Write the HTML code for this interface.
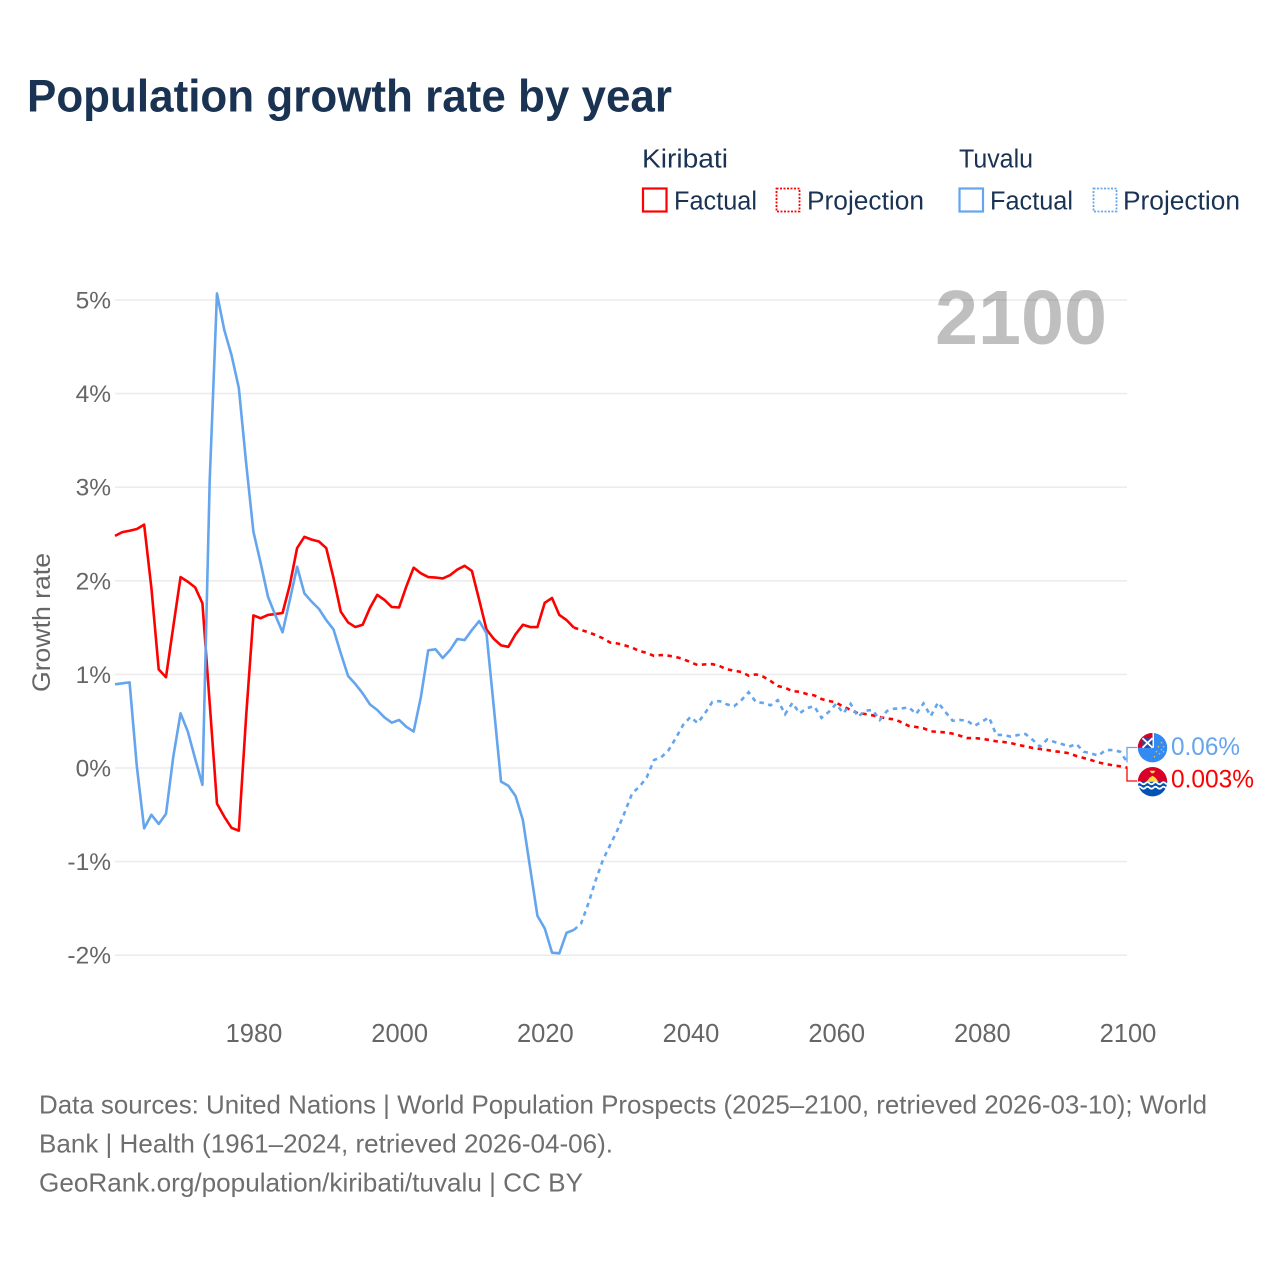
<!DOCTYPE html>
<html lang="en">
<head>
<meta charset="utf-8">
<title>Population growth rate by year</title>
<style>
html,body{margin:0;padding:0;background:#fff;width:1280px;height:1280px;overflow:hidden}
svg{display:block}
text{font-family:"Liberation Sans",sans-serif}
</style>
</head>
<body>
<svg id="chart" xmlns="http://www.w3.org/2000/svg" width="1280" height="1280" viewBox="0 0 1280 1280">
  <rect width="1280" height="1280" fill="#fff"/>
  <text x="27" y="111.500" font-size="45" font-weight="700" fill="#1a3353" textLength="645" lengthAdjust="spacingAndGlyphs">Population growth rate by year</text>

  <g font-size="25.500" fill="#1a3353">
    <text x="642" y="167.500" textLength="86" lengthAdjust="spacingAndGlyphs">Kiribati</text>
    <text x="959" y="167.500" textLength="74" lengthAdjust="spacingAndGlyphs">Tuvalu</text>
    <rect x="643" y="188.500" width="23.500" height="23" fill="none" stroke="#ff0000" stroke-width="2.200"/>
    <text x="674" y="209.500" textLength="83" lengthAdjust="spacingAndGlyphs">Factual</text>
    <rect x="776.500" y="188.500" width="23" height="23" fill="none" stroke="#ff0000" stroke-width="1.800" stroke-dasharray="2 1.500"/>
    <text x="807" y="209.500" textLength="117" lengthAdjust="spacingAndGlyphs">Projection</text>
    <rect x="959.500" y="188.500" width="23.500" height="23" fill="none" stroke="#64a5ee" stroke-width="2.200"/>
    <text x="990" y="209.500" textLength="83" lengthAdjust="spacingAndGlyphs">Factual</text>
    <rect x="1093.500" y="188.500" width="23" height="23" fill="none" stroke="#64a5ee" stroke-width="1.800" stroke-dasharray="2 1.500"/>
    <text x="1123" y="209.500" textLength="117" lengthAdjust="spacingAndGlyphs">Projection</text>
  </g>

  <g id="grid"></g>
  <text x="935" y="344" font-size="77" font-weight="700" fill="#000" fill-opacity="0.25" textLength="172" lengthAdjust="spacingAndGlyphs">2100</text>
  <g id="yticks" font-size="24.500" fill="#666" text-anchor="end"></g>
  <g id="xticks" font-size="25.500" fill="#666" text-anchor="middle"></g>
  <text transform="translate(50,622.500) rotate(-90)" font-size="25" fill="#666" text-anchor="middle" textLength="139" lengthAdjust="spacingAndGlyphs">Growth rate</text>
  <g id="series"></g>

  <g transform="translate(1152.500,747.700)">
    <clipPath id="clip-tv"><circle r="14.700"/></clipPath>
    <g clip-path="url(#clip-tv)">
      <rect x="-15" y="-15" width="30" height="30" fill="#338af3"/>
      <rect x="-15" y="-15" width="15" height="15" fill="#d80027"/>
      <rect x="-10" y="-9.500" width="10" height="9.500" fill="#1d4ea8"/>
      <path d="M-10,-9.500 L0,0 M-10,0 L0,-9.500" stroke="#fff" stroke-width="1.800"/>
      <rect x="0" y="-15" width="1.500" height="15" fill="#fff"/>
    </g>
    <g fill="#e8c040">
      <circle cx="9" cy="-5" r="0.800"/><circle cx="11" cy="-1" r="0.800"/><circle cx="6" cy="-1" r="0.800"/>
      <circle cx="9" cy="2" r="0.800"/><circle cx="4" cy="4" r="0.800"/><circle cx="7" cy="6" r="0.800"/>
      <circle cx="2" cy="9" r="0.800"/><circle cx="11" cy="4" r="0.800"/>
    </g>
  </g>
  <g transform="translate(1152.500,781.700)">
    <clipPath id="clip-ki"><circle r="14.700"/></clipPath>
    <g clip-path="url(#clip-ki)">
      <rect x="-15" y="-15" width="30" height="16" fill="#d80027"/>
      <rect x="-15" y="0" width="30" height="15" fill="#0052b4"/>
      <path d="M-6,0 L-3,-4 L0,-6 L3,-4 L6,0 Z" fill="#ffda44"/>
      <path d="M-3,-11 L3,-11 L1,-8.500 L-1,-8.500 Z" fill="#ffda44"/>
      <path d="M-15,1.500 q2,-2 4,0 t4,0 t4,0 t4,0 t4,0 t4,0 t4,0 t4,0" fill="none" stroke="#fff" stroke-width="1.800"/>
      <path d="M-15,6 q2,-2 4,0 t4,0 t4,0 t4,0 t4,0 t4,0 t4,0 t4,0" fill="none" stroke="#fff" stroke-width="1.800"/>
    </g>
  </g>
  <g id="endlabels" font-size="25"></g>

  <g font-size="26" fill="#6e6e6e">
    <text x="39" y="1113.500" textLength="1168" lengthAdjust="spacingAndGlyphs">Data sources: United Nations | World Population Prospects (2025–2100, retrieved 2026-03-10); World</text>
    <text x="39" y="1152.500" textLength="574" lengthAdjust="spacingAndGlyphs">Bank | Health (1961–2024, retrieved 2026-04-06).</text>
    <text x="39" y="1191.500" textLength="544" lengthAdjust="spacingAndGlyphs">GeoRank.org/population/kiribati/tuvalu | CC BY</text>
  </g>
</svg>
<script>
const years = [
1961,1962,1963,1964,1965,1966,1967,1968,1969,1970,
1971,1972,1973,1974,1975,1976,1977,1978,1979,1980,
1981,1982,1983,1984,1985,1986,1987,1988,1989,1990,
1991,1992,1993,1994,1995,1996,1997,1998,1999,2000,
2001,2002,2003,2004,2005,2006,2007,2008,2009,2010,
2011,2012,2013,2014,2015,2016,2017,2018,2019,2020,
2021,2022,2023,2024,2025,2026,2027,2028,2029,2030,
2031,2032,2033,2034,2035,2036,2037,2038,2039,2040,
2041,2042,2043,2044,2045,2046,2047,2048,2049,2050,
2051,2052,2053,2054,2055,2056,2057,2058,2059,2060,
2061,2062,2063,2064,2065,2066,2067,2068,2069,2070,
2071,2072,2073,2074,2075,2076,2077,2078,2079,2080,
2081,2082,2083,2084,2085,2086,2087,2088,2089,2090,
2091,2092,2093,2094,2095,2096,2097,2098,2099,2100];
const lastFactualYear = 2024;
const kiribatiValues = [
2.48,2.52,2.535,2.553,2.60,1.92,1.054,0.97,1.51,2.04,
1.99,1.93,1.76,0.69,-0.38,-0.52,-0.64,-0.67,0.55,1.63,
1.60,1.635,1.645,1.656,1.955,2.35,2.47,2.44,2.42,2.35,
2.03,1.67,1.555,1.506,1.53,1.71,1.85,1.795,1.72,1.715,
1.94,2.14,2.08,2.04,2.035,2.025,2.06,2.12,2.16,2.105,
1.795,1.48,1.38,1.31,1.295,1.43,1.53,1.506,1.506,1.765,
1.816,1.635,1.58,1.50,1.475,1.45,1.42,1.385,1.34,1.33,
1.31,1.285,1.25,1.23,1.197,1.207,1.20,1.186,1.165,1.13,
1.10,1.107,1.11,1.09,1.054,1.04,1.026,0.987,1.0,0.976,
0.93,0.876,0.858,0.82,0.815,0.79,0.776,0.737,0.716,0.70,
0.655,0.62,0.585,0.577,0.563,0.545,0.527,0.52,0.488,0.449,
0.438,0.424,0.392,0.385,0.381,0.367,0.345,0.32,0.32,0.313,
0.30,0.285,0.278,0.267,0.246,0.232,0.214,0.203,0.192,0.178,
0.171,0.157,0.128,0.107,0.085,0.06,0.043,0.029,0.018,0.003];
const tuvaluValues = [
0.894,0.905,0.915,0.014,-0.645,-0.50,-0.598,-0.49,0.12,0.584,
0.388,0.10,-0.18,3.07,5.07,4.68,4.41,4.06,3.26,2.525,
2.19,1.83,1.635,1.45,1.795,2.15,1.866,1.777,1.70,1.58,
1.48,1.225,0.983,0.897,0.798,0.68,0.62,0.54,0.484,0.513,
0.44,0.39,0.76,1.257,1.268,1.175,1.26,1.378,1.367,1.474,
1.57,1.44,0.655,-0.146,-0.19,-0.30,-0.556,-1.07,-1.58,-1.714,
-1.973,-1.98,-1.76,-1.73,-1.66,-1.445,-1.197,-0.98,-0.82,-0.66,
-0.47,-0.27,-0.20,-0.10,0.085,0.115,0.19,0.32,0.46,0.545,
0.48,0.585,0.705,0.715,0.68,0.66,0.725,0.81,0.705,0.695,
0.67,0.725,0.575,0.695,0.585,0.64,0.66,0.535,0.60,0.685,
0.585,0.685,0.548,0.612,0.62,0.513,0.61,0.634,0.637,0.648,
0.577,0.69,0.555,0.70,0.60,0.505,0.513,0.505,0.449,0.495,
0.54,0.353,0.353,0.335,0.353,0.363,0.30,0.228,0.306,0.278,
0.256,0.228,0.256,0.174,0.157,0.131,0.192,0.192,0.174,0.06];
const yTickValues = [5,4,3,2,1,0,-1,-2];
const yTickLabels = ["5%","4%","3%","2%","1%","0%","-1%","-2%"];
const xTickValues = [1980,2000,2020,2040,2060,2080,2100];
const xTickLabels = ["1980","2000","2020","2040","2060","2080","2100"];
const endValueLabels = ["0.06%","0.003%"];

const NS = "http://www.w3.org/2000/svg";
const KIRIBATI_COLOR = "#ff0000";
const TUVALU_COLOR = "#64a5ee";
const LINE_WIDTH = 2.6;
const DASHES = "4.500 4.500";
function xScale(year){ return 254 + (year - 1980) * 7.2835; }
function lineX(year){ return xScale(year) - 0.6; }
function yScale(v){ return 768 - v * 93.6; }
function make(tag, attrs, parent){
  const el = document.createElementNS(NS, tag);
  for (const k in attrs) el.setAttribute(k, attrs[k]);
  parent.appendChild(el);
  return el;
}
function pathFor(values, from, to){
  let d = "";
  years.forEach(function(yr, i){
    if (yr < from || yr > to) return;
    d += (d ? "L" : "M") + lineX(yr).toFixed(2) + "," + yScale(values[i]).toFixed(2);
  });
  return d;
}
const gridG = document.getElementById("grid");
const yG = document.getElementById("yticks");
yTickValues.forEach(function(v, i){
  const ln = make("line", {x1:115, x2:1127, y1:yScale(v), y2:yScale(v), stroke:"#ececec", "stroke-width":1.6}, gridG);
  
  
  const t = make("text", {x:111, y:yScale(v)+8.500}, yG);
  t.textContent = yTickLabels[i];
  
  
});
const xG = document.getElementById("xticks");
xTickValues.forEach(function(v, i){
  const t = make("text", {x:xScale(v), y:1042}, xG);
  t.textContent = xTickLabels[i];
  
  
});
const sG = document.getElementById("series");
const firstYear = years[0];
const lastYear = years[years.length - 1];
const kf = make("path", {d:pathFor(kiribatiValues, firstYear, lastFactualYear), fill:"none", stroke:KIRIBATI_COLOR, "stroke-width":LINE_WIDTH, "stroke-linejoin":"round"}, sG);


const kp = make("path", {d:pathFor(kiribatiValues, lastFactualYear, lastYear), fill:"none", stroke:KIRIBATI_COLOR, "stroke-width":LINE_WIDTH, "stroke-dasharray":DASHES}, sG);


const tf = make("path", {d:pathFor(tuvaluValues, firstYear, lastFactualYear), fill:"none", stroke:TUVALU_COLOR, "stroke-width":LINE_WIDTH, "stroke-linejoin":"round"}, sG);


const tp = make("path", {d:pathFor(tuvaluValues, lastFactualYear, lastYear), fill:"none", stroke:TUVALU_COLOR, "stroke-width":LINE_WIDTH, "stroke-dasharray":DASHES}, sG);



const last = years.length - 1;
const c1 = make("path", {d:"M1127,"+yScale(tuvaluValues[last]).toFixed(2)+"V747.500H1137", fill:"none", stroke:TUVALU_COLOR, "stroke-width":1.3}, sG);


const c2 = make("path", {d:"M1127,"+yScale(kiribatiValues[last]).toFixed(2)+"V781H1137", fill:"none", stroke:KIRIBATI_COLOR, "stroke-width":1.3}, sG);



const eG = document.getElementById("endlabels");
const l1 = make("text", {x:1171, y:755, fill:TUVALU_COLOR, textLength:69, lengthAdjust:"spacingAndGlyphs"}, eG);
l1.textContent = endValueLabels[0];


const l2 = make("text", {x:1171, y:787.500, fill:KIRIBATI_COLOR, textLength:83, lengthAdjust:"spacingAndGlyphs"}, eG);
l2.textContent = endValueLabels[1];


</script>
</body>
</html>
